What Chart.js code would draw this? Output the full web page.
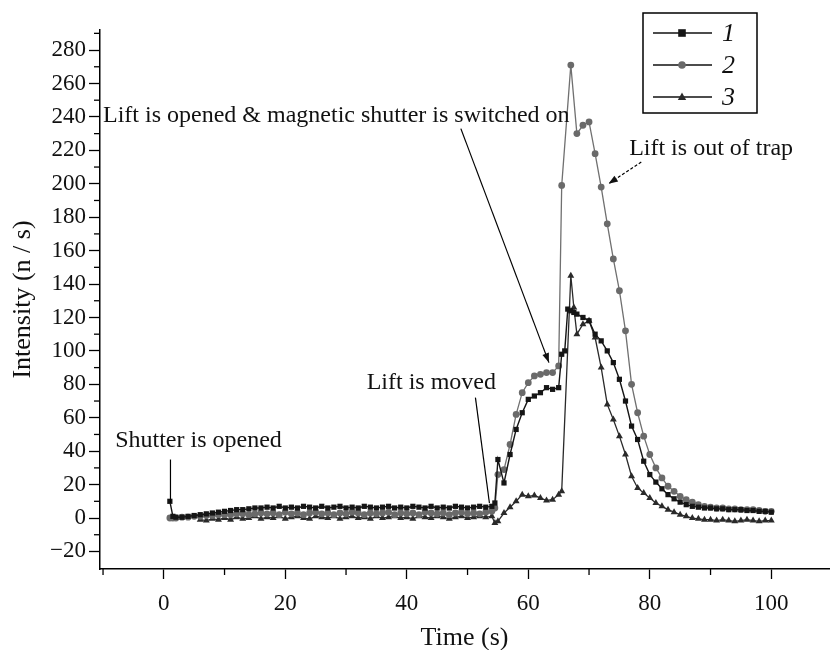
<!DOCTYPE html>
<html>
<head>
<meta charset="utf-8">
<title>Intensity vs time</title>
<script src="https://cdn.jsdelivr.net/npm/chart.js@4.4.0/dist/chart.umd.min.js"></script>
<style>
  body { margin: 0; background: #fff; }
  #wrap { width: 833px; height: 650px; }
</style>
</head>
<body>
<div id="wrap"><canvas id="chart" width="833" height="650"></canvas></div>
<script>
// time axis (s), shared by the three curves; null = no point for that curve
const times = [
  1, 1.5, 2, 3, 4, 5, 6, 7, 8, 9,
  10, 11, 12, 13, 14, 15, 16, 17, 18, 19,
  20, 21, 22, 23, 24, 25, 26, 27, 28, 29,
  30, 31, 32, 33, 34, 35, 36, 37, 38, 39,
  40, 41, 42, 43, 44, 45, 46, 47, 48, 49,
  50, 51, 52, 53, 54, 54.5, 55, 56, 57, 58,
  59, 60, 61, 62, 63, 64, 65, 65.5, 66, 66.5,
  67, 67.5, 68, 69, 70, 71, 72, 73, 74, 75,
  76, 77, 78, 79, 80, 81, 82, 83, 84, 85,
  86, 87, 88, 89, 90, 91, 92, 93, 94, 95,
  96, 97, 98, 99, 100
];

const series1 = [
  10, 1, 0.5, 0.5, 1, 1.5, 2, 2.5, 3, 3.5,
  4, 4.5, 5, 5, 5.5, 6, 6, 6.5, 6, 7,
  6, 6.5, 6, 7, 6.5, 6, 7, 6, 6.5, 7,
  6, 6.5, 6, 7, 6.5, 6, 6.5, 7, 6, 6.5,
  6, 7, 6.5, 6, 7, 6, 6.5, 6, 7, 6.5,
  6, 6.5, 7, 6.5, 7, 9, 35, 21, 38, 53,
  63, 71, 73, 75, 78, 77, 78, 98, 100, 125,
  124, 123, 122, 120, 118, 110, 106, 100, 93, 83,
  70, 55, 47, 34, 26, 21.5, 17.5, 14, 11.5, 9.5,
  8, 7, 6.5, 6, 6, 5.5, 5.5, 5, 5, 5,
  4.5, 4.5, 4, 4, 3.5
];

const series2 = [
  0, 0, 0, 0.5, 0.5, 1, 1, 1.5, 1.5, 2,
  2, 2, 2.5, 2.5, 2, 2.5, 3, 2.5, 3, 2,
  3.5, 2.5, 3, 2, 3, 3.5, 2.5, 3, 2, 3,
  2.5, 3.5, 3, 2, 3, 2.5, 3, 3.5, 2, 3,
  2.5, 3, 2, 3.5, 3, 2.5, 3, 2, 3, 3.5,
  2.5, 3, 2.5, 3.5, 4, 6, 26, 29, 44, 62,
  75, 81, 85, 86, 87, 87, 91, 199, null, null,
  271, null, 230, 235, 237, 218, 198, 176, 155, 136,
  112, 80, 63, 49, 38, 30, 24, 19, 16, 13,
  11, 9.5, 8, 7, 6.5, 6, 6, 5.5, 5.5, 5,
  5, 5, 4.5, 4, 4
];

const series3 = [
  null, null, null, null, null, null, -1, -1.5, -0.5, -1,
  0, -1, 0.5, -0.5, 0, 1, -0.5, 0.5, 0, 1,
  -0.5, 0.5, 1, 0, -0.5, 1, 0.5, 0, 1, -0.5,
  0.5, 1, 0, 0.5, -0.5, 1, 0, 0.5, 1, 0,
  0.5, -0.5, 1, 0.5, 0, 1, 0.5, -0.5, 0.5, 1,
  0, 0.5, 1, 0.5, 1, -3, -2, 3, 6.5, 10,
  14, 13, 13.5, 12, 10.5, 11, 14, 16, null, null,
  145, 126, 110, 116, 118, 108, 90, 68, 59, 49,
  38, 25, 18, 15, 12, 9, 7, 5, 3.5, 2,
  1, 0, -0.5, -1, -1, -1.5, -1, -1.5, -2, -1.5,
  -1, -1.5, -2, -1.5, -1.5
];

const seriesNames = ["1", "2", "3"];
const xTickLabels = [0, 20, 40, 60, 80, 100];
const yTickLabels = [-20, 0, 20, 40, 60, 80, 100, 120, 140, 160, 180, 200, 220, 240, 260, 280];

// callouts, in data units: text anchor + leader line
const notes = [
  { text: "Shutter is opened", at: [-8, 46], from: [1.1, 35], to: [1.1, 9] },
  { text: "Lift is moved", at: [33.4, 81], from: [51.3, 72], to: [53.6, 9] },
  { text: "Lift is opened & magnetic shutter is switched on", at: [-10, 241], from: [48.9, 233], to: [63.4, 93], arrow: true },
  { text: "Lift is out of trap", at: [76.6, 221], from: [78.6, 213], to: [73.2, 200], arrow: true, dash: true }
];

const serif = "'Liberation Serif', 'DejaVu Serif', serif";

function toPoints(values) {
  return times.map((t, i) => ({ x: t, y: values[i] }));
}

function drawMarker(ctx, style, x, y, r) {
  ctx.beginPath();
  if (style === "rect") {
    ctx.rect(x - r, y - r, 2 * r, 2 * r);
  } else if (style === "triangle") {
    ctx.moveTo(x, y - r * 1.2);
    ctx.lineTo(x + r * 1.1, y + r * 0.8);
    ctx.lineTo(x - r * 1.1, y + r * 0.8);
    ctx.closePath();
  } else {
    ctx.arc(x, y, r, 0, Math.PI * 2);
  }
  ctx.fill();
}

// minor ticks, callouts and the boxed legend
const extras = {
  id: "extras",
  afterDraw(chart) {
    const { ctx, chartArea } = chart;
    const xs = chart.scales.x, ys = chart.scales.y;
    ctx.save();
    ctx.strokeStyle = "#000";
    ctx.lineWidth = 1.3;
    xs.ticks.forEach(tk => {
      if (xTickLabels.includes(tk.value)) return;
      const p = xs.getPixelForValue(tk.value);
      ctx.beginPath();
      ctx.moveTo(p, chartArea.bottom);
      ctx.lineTo(p, chartArea.bottom + 6);
      ctx.stroke();
    });
    ys.ticks.forEach(tk => {
      if (yTickLabels.includes(tk.value)) return;
      const p = ys.getPixelForValue(tk.value);
      ctx.beginPath();
      ctx.moveTo(chartArea.left, p);
      ctx.lineTo(chartArea.left - 6, p);
      ctx.stroke();
    });

    // callouts
    ctx.fillStyle = "#111";
    ctx.font = "24px " + serif;
    ctx.textBaseline = "middle";
    ctx.textAlign = "left";
    notes.forEach(n => {
      ctx.fillText(n.text, xs.getPixelForValue(n.at[0]), ys.getPixelForValue(n.at[1]));
      const x1 = xs.getPixelForValue(n.from[0]), y1 = ys.getPixelForValue(n.from[1]);
      const x2 = xs.getPixelForValue(n.to[0]), y2 = ys.getPixelForValue(n.to[1]);
      ctx.lineWidth = 1.2;
      ctx.setLineDash(n.dash ? [3, 2] : []);
      ctx.beginPath();
      ctx.moveTo(x1, y1);
      ctx.lineTo(x2, y2);
      ctx.stroke();
      ctx.setLineDash([]);
      if (n.arrow) {
        const a = Math.atan2(y2 - y1, x2 - x1);
        ctx.beginPath();
        ctx.moveTo(x2, y2);
        ctx.lineTo(x2 - 10 * Math.cos(a - 0.35), y2 - 10 * Math.sin(a - 0.35));
        ctx.lineTo(x2 - 10 * Math.cos(a + 0.35), y2 - 10 * Math.sin(a + 0.35));
        ctx.closePath();
        ctx.fill();
      }
    });

    // legend box
    ctx.lineWidth = 1.5;
    ctx.strokeRect(643, 13, 114, 100);
    ctx.font = "italic 26px " + serif;
    chart.data.datasets.forEach((ds, i) => {
      const y = 33 + i * 32;
      ctx.strokeStyle = "#111";
      ctx.lineWidth = 1.3;
      ctx.beginPath();
      ctx.moveTo(653, y);
      ctx.lineTo(712, y);
      ctx.stroke();
      ctx.fillStyle = ds.pointBackgroundColor;
      drawMarker(ctx, ds.pointStyle, 682, y, 3.8);
      ctx.fillStyle = "#111";
      ctx.fillText(ds.label, 722, y + 1);
    });
    ctx.restore();
  }
};

new Chart(document.getElementById("chart"), {
  type: "line",
  data: {
    datasets: [
      {
        label: seriesNames[0],
        data: toPoints(series1),
        borderColor: "#151515",
        borderWidth: 1.4,
        pointStyle: "rect",
        pointRadius: 3.7,
        pointBackgroundColor: "#151515",
        pointBorderWidth: 0,
        spanGaps: true,
        order: 1
      },
      {
        label: seriesNames[1],
        data: toPoints(series2),
        borderColor: "#707070",
        borderWidth: 1.3,
        pointStyle: "circle",
        pointRadius: 3.4,
        pointBackgroundColor: "#6a6a6a",
        pointBorderWidth: 0,
        spanGaps: true,
        order: 2
      },
      {
        label: seriesNames[2],
        data: toPoints(series3),
        borderColor: "#2a2a2a",
        borderWidth: 1.3,
        pointStyle: "triangle",
        pointRadius: 4,
        pointBackgroundColor: "#2a2a2a",
        pointBorderWidth: 0,
        spanGaps: true,
        order: 3
      }
    ]
  },
  options: {
    responsive: false,
    animation: false,
    layout: { padding: { top: 30, left: 0, right: 0, bottom: 0 } },
    plugins: {
      legend: { display: false },
      tooltip: { enabled: false }
    },
    scales: {
      x: {
        type: "linear",
        min: -10.5,
        max: 109.5,
        afterFit: s => { s.height = 81; },
        afterBuildTicks: s => {
          const tk = [];
          for (let v = -10; v <= 100; v += 10) tk.push({ value: v });
          s.ticks = tk;
        },
        border: { display: true, color: "#000", width: 1.5 },
        grid: {
          drawOnChartArea: false,
          tickLength: 10,
          tickWidth: 1.3,
          tickColor: c => (c.tick && xTickLabels.includes(c.tick.value)) ? "#000" : "rgba(0,0,0,0)"
        },
        ticks: {
          autoSkip: false,
          maxRotation: 0,
          padding: 11,
          color: "#111",
          font: { family: serif, size: 23 },
          callback: v => xTickLabels.includes(v) ? String(v) : ""
        },
        title: {
          display: true,
          text: "Time (s)",
          color: "#111",
          font: { family: serif, size: 26 },
          padding: { top: 0, bottom: -4 }
        }
      },
      y: {
        type: "linear",
        min: -30.5,
        max: 292,
        afterFit: s => { s.width = 100; },
        afterBuildTicks: s => {
          const tk = [];
          for (let v = -20; v <= 290; v += 10) tk.push({ value: v });
          s.ticks = tk;
        },
        border: { display: true, color: "#000", width: 1.5 },
        grid: {
          drawOnChartArea: false,
          tickLength: 11,
          tickWidth: 1.3,
          tickColor: c => (c.tick && yTickLabels.includes(c.tick.value)) ? "#000" : "rgba(0,0,0,0)"
        },
        ticks: {
          autoSkip: false,
          padding: 3,
          color: "#111",
          font: { family: serif, size: 23 },
          callback: v => yTickLabels.includes(v) ? (v < 0 ? "\u2212" + Math.abs(v) : String(v)) : ""
        },
        title: {
          display: true,
          text: "Intensity (n / s)",
          color: "#111",
          font: { family: serif, size: 26 },
          padding: { top: 8, bottom: 0 }
        }
      }
    }
  },
  plugins: [extras]
});
</script>
</body>
</html>
